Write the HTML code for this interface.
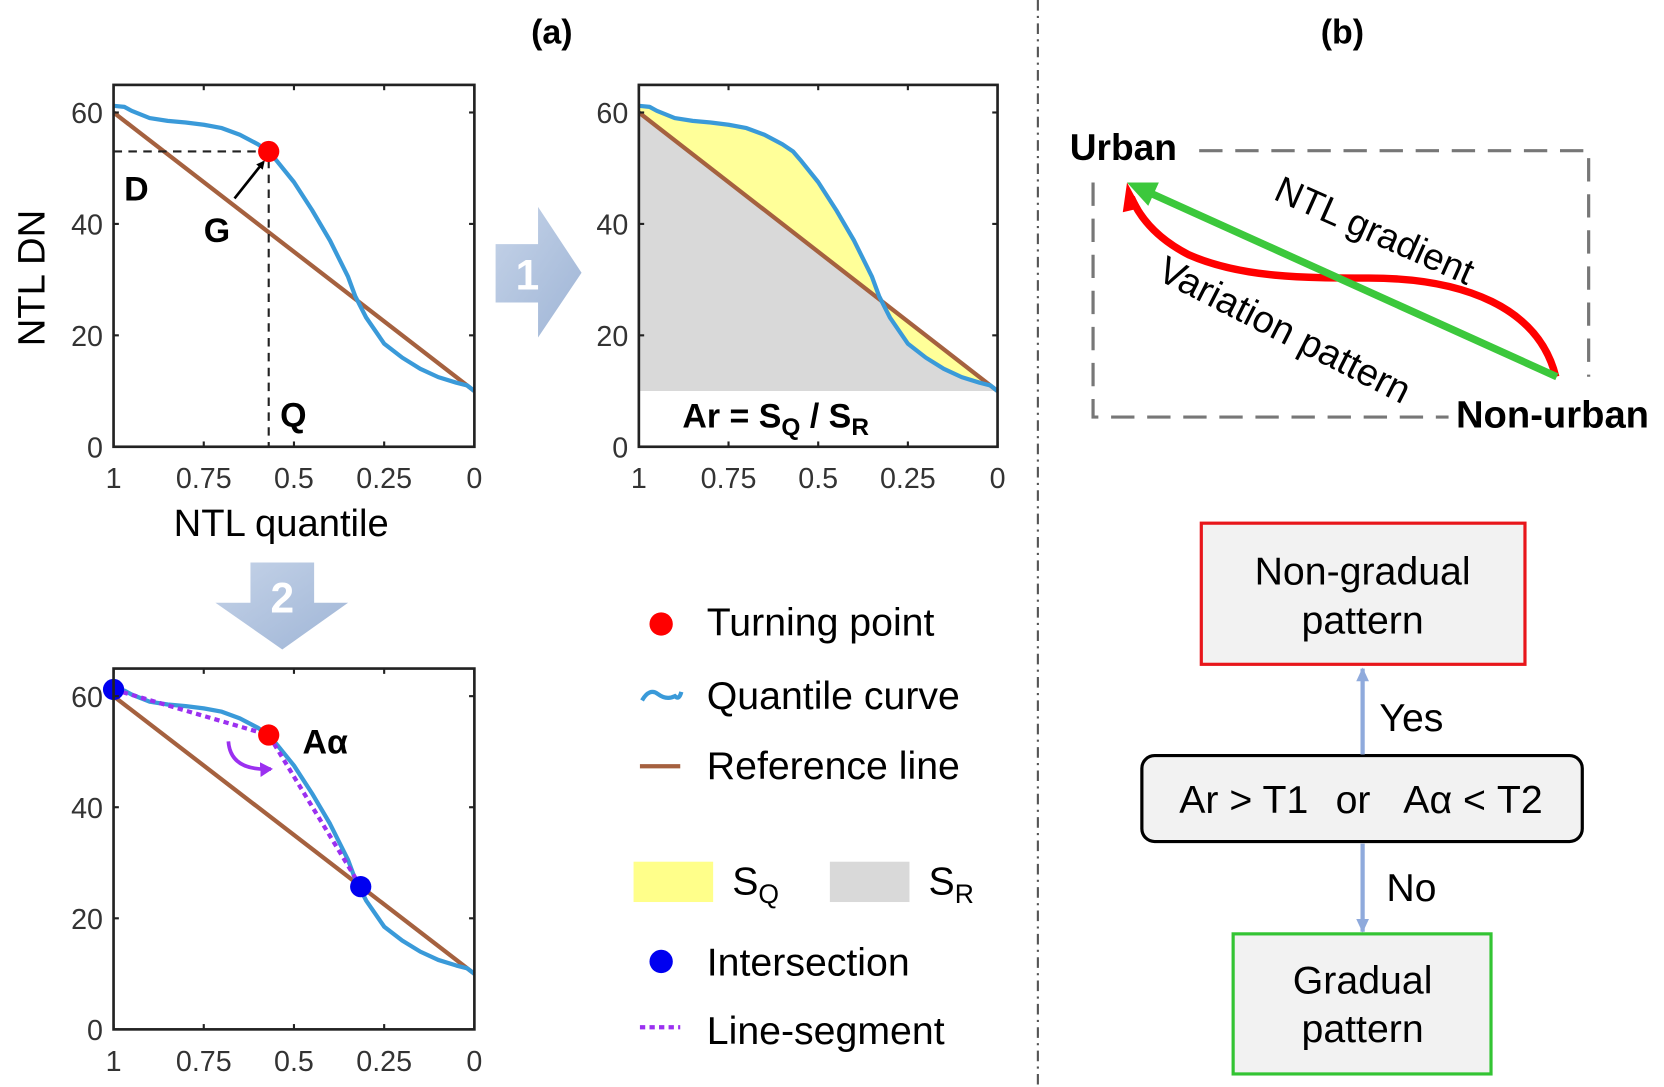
<!DOCTYPE html>
<html><head><meta charset="utf-8">
<style>
html,body{margin:0;padding:0;background:#fff;}
svg{display:block;font-family:"Liberation Sans",Arial,sans-serif;}
</style></head>
<body>
<svg id="fig" width="1664" height="1087" viewBox="0 0 1568 1024.3" xmlns="http://www.w3.org/2000/svg">
<defs>
<linearGradient id="arrG" x1="0" y1="0" x2="1" y2="1">
<stop offset="0" stop-color="#c5d3e8"/><stop offset="1" stop-color="#9fb5d6"/></linearGradient>
<marker id="blkHead" markerWidth="8" markerHeight="8" refX="6" refY="4" orient="auto" markerUnits="userSpaceOnUse"><path d="M0,0 L8,4 L0,8 z" fill="#000"/></marker>
<marker id="blueHead" markerWidth="14" markerHeight="14" refX="12" refY="7" orient="auto" markerUnits="userSpaceOnUse"><path d="M0,1 L13,7 L0,13 z" fill="#8faadc"/></marker>
<marker id="purHead" markerWidth="14" markerHeight="14" refX="10" refY="7" orient="auto" markerUnits="userSpaceOnUse"><path d="M0,0 L12,7 L0,14 z" fill="#9b30f0"/></marker>
</defs>

<text x="520" y="41" font-size="32" font-weight="bold" text-anchor="middle">(a)</text>
<text x="1265" y="41" font-size="32" font-weight="bold" text-anchor="middle">(b)</text>
<line x1="978" y1="0" x2="978" y2="1024" stroke="#555" stroke-width="2" stroke-dasharray="10,5,2,5"/>

<g id="p1"></g>
<g id="p2"></g>
<g id="p3"></g>

<text x="42" y="262" font-size="36" text-anchor="middle" transform="rotate(-90 42 262)">NTL DN</text>
<text x="265" y="505" font-size="36" text-anchor="middle">NTL quantile</text>

<g>
<path d="M467,230 L507,230 L507,195 L548,257 L507,318 L507,285 L467,285 Z" fill="url(#arrG)"/>
<text x="497" y="273" font-size="40" font-weight="bold" fill="#fff" text-anchor="middle">1</text>
</g>
<g>
<path d="M236,530 L296,530 L296,568 L328,568 L266,612 L203,568 L236,568 Z" fill="url(#arrG)"/>
<text x="266" y="577" font-size="40" font-weight="bold" fill="#fff" text-anchor="middle">2</text>
</g>

<g font-size="37">
<circle cx="623" cy="588" r="11" fill="#f00"/>
<text x="666" y="599">Turning point</text>
<path d="M605,660 Q612,648 620,654 T636,656 Q640,660 642,652" fill="none" stroke="#3a9ad9" stroke-width="4"/>
<text x="666" y="668">Quantile curve</text>
<line x1="603" y1="722" x2="641" y2="722" stroke="#a5613f" stroke-width="4"/>
<text x="666" y="734">Reference line</text>
<rect x="597" y="812" width="75" height="38" fill="#ffff8a"/>
<text x="690" y="843">S<tspan font-size="25" dy="8">Q</tspan></text>
<rect x="782" y="812" width="75" height="38" fill="#d9d9d9"/>
<text x="875" y="843">S<tspan font-size="25" dy="8">R</tspan></text>
<circle cx="623" cy="906" r="11" fill="#0000f0"/>
<text x="666" y="919">Intersection</text>
<line x1="603" y1="968" x2="641" y2="968" stroke="#9b30f0" stroke-width="4" stroke-dasharray="5,4"/>
<text x="666" y="984">Line-segment</text>
</g>

<g>
<path d="M1130,142 L1497,142 L1497,355 M1030,172 L1030,393 L1365,393" fill="none" stroke="#777" stroke-width="3" stroke-dasharray="22,12"/>
<text x="1008" y="151" font-size="35" font-weight="bold">Urban</text>
<text x="1372" y="403" font-size="36" font-weight="bold">Non-urban</text>
<path d="M1466,355 C1450,290 1380,262 1290,262 C1230,262 1170,262 1120,240 C1085,222 1072,200 1066,186" fill="none" stroke="#f00" stroke-width="7"/>
<path d="M1062,172 L1075,196 L1058,200 Z" fill="#f00"/>
<line x1="1467" y1="355" x2="1082" y2="181" stroke="#3cc83c" stroke-width="7"/>
<path d="M1062,172 L1092,172 L1082,194 Z" fill="#3cc83c"/>
<text x="1295" y="229" font-size="35" text-anchor="middle" transform="rotate(24 1295 218)">NTL gradient</text>
<text x="1210" y="323" font-size="36" text-anchor="middle" transform="rotate(27 1210 312)">Variation pattern</text>
</g>

<g font-size="37" text-anchor="middle">
<rect x="1132" y="493" width="305" height="133" fill="#f2f2f2" stroke="#e8161b" stroke-width="3"/>
<text x="1284" y="551">Non-gradual</text><text x="1284" y="597">pattern</text>
<rect x="1076" y="712" width="415" height="81" rx="12" fill="#f2f2f2" stroke="#000" stroke-width="3"/>
<text x="1172" y="766">Ar &gt; T1</text>
<text x="1275" y="766">or</text>
<text x="1388" y="766">Aα &lt; T2</text>
<line x1="1284" y1="711" x2="1284" y2="630" stroke="#8faadc" stroke-width="4" marker-end="url(#blueHead)"/>
<text x="1330" y="689">Yes</text>
<line x1="1284" y1="795" x2="1284" y2="878" stroke="#8faadc" stroke-width="4" marker-end="url(#blueHead)"/>
<text x="1330" y="849">No</text>
<rect x="1162" y="880" width="243" height="132" fill="#f2f2f2" stroke="#33c433" stroke-width="3"/>
<text x="1284" y="936">Gradual</text><text x="1284" y="982">pattern</text>
</g>

<script>
const quantiles = [1, 0.97, 0.95, 0.9, 0.85, 0.8, 0.75, 0.7, 0.65, 0.6, 0.57, 0.55, 0.5, 0.45, 0.4, 0.35, 0.33, 0.3, 0.25, 0.2, 0.15, 0.1, 0.05, 0.02, 0];
const dnValues = [61.2, 61, 60.3, 59, 58.5, 58.2, 57.8, 57.2, 56, 54.3, 53, 51.5, 47.5, 42.5, 37, 30.5, 27, 23.2, 18.5, 16, 14, 12.5, 11.5, 11, 10];
const refStart = [1, 60];
const refEnd = [0, 10];
const turningPoint = [0.57, 53];
const intersectionPoint = [0.315, 25.7];
const xTicks = [1, 0.75, 0.5, 0.25, 0];
const xTickLabels = ['1', '0.75', '0.5', '0.25', '0'];
const yTicks = [0, 20, 40, 60];
const yTickLabels = ['0', '20', '40', '60'];
const NS = 'http://www.w3.org/2000/svg';

function mk(parent, tag, attrs) {
  const e = document.createElementNS(NS, tag);
  for (const k in attrs) e.setAttribute(k, attrs[k]);
  parent.appendChild(e);
  return e;
}

function plot(id, L, R, T, B) {
  const g = document.getElementById(id);
  const y0 = B, y60 = T + 26;
  const sx = q => L + (1 - q) * (R - L);
  const sy = v => y0 - v * (y0 - y60) / 60;
  const pts = quantiles.map((q, i) => sx(q) + ',' + sy(dnValues[i])).join(' ');
  const refLine = [sx(refStart[0]), sy(refStart[1]), sx(refEnd[0]), sy(refEnd[1])];
  return {g, sx, sy, pts, refLine, draw() {
    const ref = mk(g, 'line', {x1: refLine[0], y1: refLine[1], x2: refLine[2], y2: refLine[3], stroke: '#a5613f', 'stroke-width': 4});
    
    
    const cv = mk(g, 'polyline', {points: pts, fill: 'none', stroke: '#3a9ad9', 'stroke-width': 4, 'stroke-linejoin': 'round'});
    
    
  }, axes() {
    const fr = mk(g, 'rect', {x: L, y: T, width: R - L, height: B - T, fill: 'none', stroke: '#222', 'stroke-width': 2.5});
    
    
    xTicks.forEach((q, i) => {
      mk(g, 'line', {x1: sx(q), y1: B, x2: sx(q), y2: B - 5, stroke: '#222', 'stroke-width': 2});
      mk(g, 'line', {x1: sx(q), y1: T, x2: sx(q), y2: T + 5, stroke: '#222', 'stroke-width': 2});
      const t = mk(g, 'text', {x: sx(q), y: B + 39, 'font-size': 27, fill: '#333', 'text-anchor': 'middle'});
      t.textContent = xTickLabels[i];
      
      
    });
    yTicks.forEach((v, i) => {
      mk(g, 'line', {x1: L, y1: sy(v), x2: L + 5, y2: sy(v), stroke: '#222', 'stroke-width': 2});
      mk(g, 'line', {x1: R, y1: sy(v), x2: R - 5, y2: sy(v), stroke: '#222', 'stroke-width': 2});
      const t = mk(g, 'text', {x: L - 10, y: sy(v) + 10, 'font-size': 27, fill: '#333', 'text-anchor': 'end'});
      t.textContent = yTickLabels[i];
      
      
    });
  }};
}

const a = plot('p1', 107, 447, 80, 421);
a.draw();
{
  const g = a.g, tx = a.sx(turningPoint[0]), ty = a.sy(turningPoint[1]);
  const d = mk(g, 'path', {d: `M107,${ty} L${tx},${ty} L${tx},421`, fill: 'none', stroke: '#222', 'stroke-width': 2, 'stroke-dasharray': '8,6'});
  
  
  const c = mk(g, 'circle', {cx: tx, cy: ty, r: 10, fill: '#f00'});
  
  
  mk(g, 'line', {x1: 221, y1: 187, x2: tx - 5, y2: ty + 10, stroke: '#000', 'stroke-width': 2.5, 'marker-end': 'url(#blkHead)'});
  [['D', 117, 189], ['G', 192, 228], ['Q', 264, 402]].forEach(([s, x, y]) => {
    const t = mk(g, 'text', {x, y, 'font-size': 32, 'font-weight': 'bold'});
    t.textContent = s;
    
    
  });
}
a.axes();

const b = plot('p2', 602, 940, 80, 421);
{
  const g = b.g, r = b.refLine, base = b.sy(refEnd[1]);
  const gr = mk(g, 'polygon', {points: `${r[0]},${r[1]} ${r[2]},${r[3]} ${r[2]},${base} ${r[0]},${base}`, fill: '#d9d9d9'});
  
  
  const yl = mk(g, 'polygon', {points: b.pts + ` ${r[2]},${r[3]} ${r[0]},${r[1]}`, fill: '#ffff99'});
  
  
}
b.draw();
{
  const t = mk(b.g, 'text', {x: 643, y: 403, 'font-size': 32, 'font-weight': 'bold'});
  
  
  const parts = [['Ar = S', 32, 0], ['Q', 23, 7], [' / S', 32, -7], ['R', 23, 7]];
  parts.forEach(([s, fs, dy]) => {
    const sp = mk(t, 'tspan', {'font-size': fs, dy: dy});
    sp.textContent = s;
  });
}
b.axes();

const c3 = plot('p3', 107, 447, 630, 970);
c3.draw();
{
  const g = c3.g;
  const p0 = [c3.sx(quantiles[0]), c3.sy(dnValues[0])];
  const tp = [c3.sx(turningPoint[0]), c3.sy(turningPoint[1])];
  const ip = [c3.sx(intersectionPoint[0]), c3.sy(intersectionPoint[1])];
  const seg = mk(g, 'polyline', {points: `${p0} ${tp} ${ip}`, fill: 'none', stroke: '#9b30f0', 'stroke-width': 4, 'stroke-dasharray': '5,4'});
  
  
  mk(g, 'path', {d: `M${tp[0] - 38},${tp[1] + 6} Q${tp[0] - 36},${tp[1] + 34} ${tp[0] + 2},${tp[1] + 32}`, fill: 'none', stroke: '#9b30f0', 'stroke-width': 3.5, 'marker-end': 'url(#purHead)'});
  const t1 = mk(g, 'circle', {cx: tp[0], cy: tp[1], r: 10, fill: '#f00'});
  
  
  [p0, ip].forEach(p => {
    const d = mk(g, 'circle', {cx: p[0], cy: p[1], r: 10, fill: '#0000f0'});
    
    
  });
  const t = mk(g, 'text', {x: 285, y: 710, 'font-size': 32, 'font-weight': 'bold'});
  t.textContent = 'Aα';
  
  
}
c3.axes();
</script>
</svg>
</body></html>
